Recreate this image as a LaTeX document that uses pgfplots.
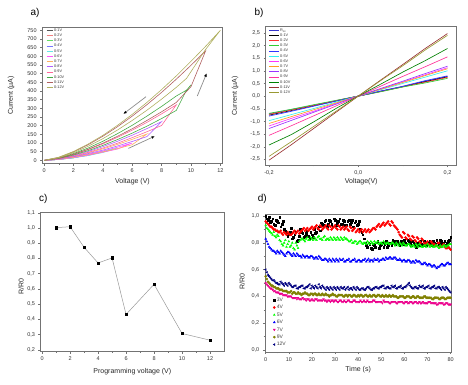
\documentclass[border=0pt]{standalone}
\usepackage{fontspec}
\setmainfont{Liberation Sans}
\usepackage{pgfplots}
\pgfplotsset{compat=1.18}
\usepackage{pgfplotstable}
\usetikzlibrary{arrows.meta}

% panel a colours
\definecolor{a1}{HTML}{555555}
\definecolor{a2}{HTML}{F08080}
\definecolor{a3}{HTML}{66DD66}
\definecolor{a4}{HTML}{7777FF}
\definecolor{a5}{HTML}{66E6E6}
\definecolor{a6}{HTML}{FF55FF}
\definecolor{a7}{HTML}{FFB060}
\definecolor{a8}{HTML}{B060FF}
\definecolor{a9}{HTML}{FF6699}
\definecolor{a10}{HTML}{44AA44}
\definecolor{a11}{HTML}{B06060}
\definecolor{a12}{HTML}{B0B060}
% panel b colours
\definecolor{bini}{HTML}{3333CC}
\definecolor{b1}{HTML}{000000}
\definecolor{b2}{HTML}{FF3333}
\definecolor{b3}{HTML}{33CC33}
\definecolor{b4}{HTML}{3333FF}
\definecolor{b5}{HTML}{33F0F0}
\definecolor{b6}{HTML}{FF33FF}
\definecolor{b7}{HTML}{FFA020}
\definecolor{b8}{HTML}{9933FF}
\definecolor{b9}{HTML}{FF3399}
\definecolor{b10}{HTML}{008000}
\definecolor{b11}{HTML}{993333}
\definecolor{b12}{HTML}{999933}
% panel d colours
\definecolor{dolive}{HTML}{808000}
\definecolor{dnavy}{HTML}{000080}

\pgfplotstableread{
t s3 s4 s5 s6 s7 s9 s12
0 1.00 0.96 0.93 0.83 0.50 0.55 0.60
1 0.97 0.94 0.90 0.79 0.48 0.51 0.56
2 0.95 0.92 0.88 0.76 0.46 0.49 0.54
3 0.98 0.91 0.86 0.74 0.45 0.48 0.52
4 0.93 0.90 0.85 0.73 0.44 0.47 0.51
5 0.96 0.89 0.86 0.74 0.43 0.46 0.50
6 0.99 0.88 0.82 0.72 0.42 0.45 0.49
7 0.94 0.87 0.79 0.73 0.42 0.45 0.50
8 0.90 0.88 0.80 0.71 0.41 0.44 0.48
9 0.88 0.86 0.77 0.72 0.41 0.44 0.49
10 0.86 0.87 0.81 0.73 0.40 0.43 0.50
11 0.91 0.86 0.78 0.71 0.40 0.44 0.48
12 0.84 0.88 0.76 0.72 0.39 0.43 0.47
13 0.88 0.87 0.80 0.70 0.39 0.42 0.48
14 0.82 0.89 0.76 0.71 0.39 0.43 0.46
15 0.90 0.88 0.82 0.70 0.38 0.42 0.47
16 0.87 0.90 0.83 0.71 0.39 0.42 0.48
17 0.85 0.89 0.81 0.69 0.38 0.43 0.46
18 0.89 0.91 0.84 0.70 0.38 0.42 0.47
19 0.83 0.90 0.82 0.69 0.37 0.41 0.49
20 0.86 0.92 0.83 0.70 0.38 0.42 0.48
21 0.90 0.91 0.84 0.68 0.37 0.42 0.46
22 0.88 0.93 0.82 0.69 0.38 0.41 0.47
23 0.92 0.90 0.85 0.70 0.37 0.42 0.49
24 0.95 0.92 0.83 0.68 0.37 0.41 0.46
25 0.93 0.91 0.84 0.67 0.38 0.41 0.47
26 0.97 0.93 0.82 0.68 0.37 0.42 0.45
27 0.94 0.90 0.83 0.66 0.37 0.41 0.46
28 0.96 0.92 0.84 0.67 0.36 0.41 0.47
29 0.92 0.91 0.82 0.68 0.37 0.42 0.45
30 0.97 0.93 0.83 0.66 0.37 0.41 0.46
31 0.95 0.90 0.84 0.67 0.36 0.40 0.47
32 0.98 0.92 0.82 0.68 0.37 0.41 0.45
33 0.94 0.91 0.83 0.67 0.36 0.41 0.46
34 0.96 0.90 0.84 0.66 0.37 0.40 0.47
35 0.93 0.92 0.83 0.67 0.36 0.41 0.46
36 0.97 0.89 0.81 0.68 0.37 0.41 0.45
37 0.95 0.91 0.82 0.66 0.36 0.40 0.46
38 0.92 0.90 0.80 0.67 0.37 0.41 0.47
39 0.96 0.88 0.81 0.66 0.36 0.40 0.45
40 0.94 0.90 0.80 0.67 0.36 0.41 0.46
41 0.90 0.89 0.81 0.66 0.37 0.41 0.45
42 0.86 0.88 0.79 0.67 0.36 0.40 0.46
43 0.80 0.90 0.80 0.68 0.36 0.41 0.45
44 0.77 0.89 0.81 0.67 0.37 0.40 0.47
45 0.79 0.88 0.79 0.66 0.36 0.41 0.46
46 0.75 0.90 0.80 0.67 0.36 0.40 0.45
47 0.78 0.91 0.81 0.68 0.37 0.41 0.46
48 0.80 0.92 0.80 0.67 0.36 0.40 0.47
49 0.76 0.94 0.79 0.66 0.36 0.41 0.46
50 0.79 0.93 0.80 0.67 0.36 0.40 0.47
51 0.77 0.95 0.81 0.68 0.37 0.40 0.48
52 0.81 0.94 0.79 0.69 0.36 0.41 0.46
53 0.78 0.96 0.80 0.68 0.36 0.40 0.47
54 0.80 0.93 0.79 0.69 0.35 0.40 0.46
55 0.82 0.95 0.80 0.68 0.36 0.41 0.47
56 0.79 0.92 0.78 0.69 0.36 0.40 0.48
57 0.81 0.90 0.79 0.67 0.35 0.39 0.46
58 0.78 0.86 0.80 0.68 0.36 0.40 0.47
59 0.80 0.84 0.78 0.66 0.36 0.40 0.46
60 0.82 0.87 0.79 0.67 0.35 0.39 0.47
61 0.79 0.83 0.78 0.66 0.36 0.40 0.48
62 0.81 0.85 0.79 0.67 0.35 0.40 0.50
63 0.78 0.82 0.77 0.65 0.36 0.39 0.47
64 0.80 0.84 0.78 0.66 0.35 0.40 0.46
65 0.77 0.81 0.79 0.67 0.36 0.39 0.47
66 0.79 0.83 0.77 0.66 0.35 0.40 0.46
67 0.81 0.80 0.78 0.65 0.35 0.39 0.47
68 0.78 0.82 0.77 0.64 0.36 0.39 0.48
69 0.80 0.79 0.78 0.65 0.35 0.40 0.46
70 0.79 0.81 0.79 0.63 0.35 0.39 0.47
71 0.81 0.78 0.77 0.64 0.36 0.39 0.46
72 0.78 0.80 0.78 0.62 0.35 0.38 0.47
73 0.80 0.79 0.77 0.63 0.35 0.39 0.48
74 0.82 0.78 0.78 0.61 0.34 0.39 0.46
75 0.79 0.80 0.76 0.62 0.35 0.38 0.47
76 0.81 0.77 0.77 0.64 0.35 0.39 0.45
77 0.80 0.79 0.78 0.63 0.34 0.39 0.46
78 0.78 0.76 0.77 0.64 0.35 0.38 0.47
79 0.81 0.77 0.78 0.65 0.34 0.39 0.45
80 0.84 0.75 0.79 0.64 0.34 0.39 0.43
0.5 0.98 0.95 0.91 0.81 0.49 0.53 0.58
1.5 0.99 0.93 0.89 0.77 0.47 0.50 0.55
2.5 0.96 0.92 0.87 0.75 0.46 0.48 0.53
3.5 0.94 0.90 0.88 0.74 0.44 0.47 0.52
4.5 0.97 0.89 0.84 0.72 0.43 0.46 0.50
5.5 0.95 0.88 0.85 0.73 0.43 0.46 0.49
6.5 0.92 0.89 0.81 0.74 0.42 0.45 0.51
7.5 0.96 0.86 0.78 0.72 0.41 0.44 0.49
8.5 0.89 0.87 0.82 0.70 0.41 0.44 0.50
9.5 0.85 0.88 0.79 0.73 0.40 0.43 0.48
10.5 0.88 0.86 0.77 0.72 0.40 0.43 0.49
11.5 0.83 0.87 0.80 0.70 0.39 0.42 0.47
12.5 0.86 0.89 0.75 0.71 0.39 0.43 0.48
13.5 0.81 0.88 0.78 0.72 0.38 0.42 0.46
14.5 0.85 0.87 0.81 0.70 0.38 0.42 0.47
15.5 0.88 0.89 0.83 0.69 0.38 0.41 0.48
16.5 0.84 0.91 0.82 0.70 0.38 0.42 0.46
17.5 0.87 0.90 0.83 0.70 0.37 0.42 0.47
18.5 0.85 0.89 0.82 0.69 0.38 0.41 0.48
19.5 0.88 0.91 0.84 0.70 0.37 0.42 0.46
20.5 0.84 0.90 0.82 0.69 0.37 0.41 0.47
21.5 0.87 0.92 0.83 0.69 0.38 0.42 0.48
22.5 0.91 0.91 0.84 0.68 0.37 0.41 0.46
23.5 0.89 0.93 0.83 0.69 0.37 0.41 0.47
24.5 0.94 0.90 0.82 0.67 0.37 0.42 0.48
25.5 0.96 0.92 0.85 0.68 0.37 0.41 0.46
26.5 0.92 0.91 0.83 0.67 0.36 0.41 0.47
27.5 0.97 0.93 0.82 0.68 0.37 0.40 0.45
28.5 0.94 0.90 0.83 0.66 0.37 0.41 0.46
29.5 0.98 0.92 0.84 0.67 0.36 0.41 0.47
30.5 0.93 0.91 0.82 0.68 0.37 0.40 0.45
31.5 0.96 0.93 0.83 0.66 0.36 0.41 0.46
32.5 0.94 0.90 0.84 0.67 0.37 0.41 0.47
33.5 0.97 0.92 0.82 0.68 0.36 0.40 0.46
34.5 0.93 0.91 0.83 0.66 0.36 0.41 0.45
35.5 0.96 0.90 0.82 0.67 0.37 0.40 0.47
36.5 0.94 0.92 0.81 0.66 0.36 0.41 0.46
37.5 0.97 0.89 0.80 0.67 0.36 0.40 0.45
38.5 0.95 0.91 0.81 0.68 0.37 0.41 0.46
39.5 0.93 0.89 0.79 0.66 0.36 0.40 0.47
40.5 0.96 0.88 0.81 0.67 0.36 0.40 0.45
41.5 0.88 0.90 0.80 0.66 0.36 0.41 0.46
42.5 0.83 0.89 0.80 0.67 0.37 0.40 0.45
43.5 0.78 0.88 0.79 0.66 0.36 0.41 0.46
44.5 0.80 0.90 0.80 0.68 0.36 0.40 0.47
45.5 0.76 0.89 0.81 0.67 0.36 0.40 0.45
46.5 0.79 0.91 0.79 0.66 0.37 0.41 0.46
47.5 0.77 0.90 0.80 0.67 0.36 0.40 0.47
48.5 0.81 0.93 0.81 0.68 0.36 0.41 0.46
49.5 0.78 0.92 0.80 0.67 0.36 0.40 0.47
50.5 0.80 0.94 0.79 0.68 0.35 0.41 0.48
51.5 0.79 0.93 0.80 0.67 0.36 0.40 0.46
52.5 0.77 0.95 0.80 0.68 0.36 0.40 0.47
53.5 0.80 0.94 0.79 0.69 0.35 0.41 0.46
54.5 0.78 0.96 0.80 0.68 0.36 0.40 0.48
55.5 0.81 0.93 0.79 0.69 0.36 0.40 0.47
56.5 0.80 0.91 0.80 0.68 0.35 0.40 0.46
57.5 0.79 0.88 0.78 0.67 0.36 0.39 0.47
58.5 0.81 0.85 0.79 0.67 0.36 0.40 0.48
59.5 0.79 0.88 0.80 0.67 0.35 0.40 0.46
60.5 0.80 0.84 0.78 0.66 0.36 0.39 0.47
61.5 0.82 0.86 0.79 0.67 0.35 0.40 0.49
62.5 0.79 0.83 0.78 0.66 0.36 0.39 0.48
63.5 0.81 0.85 0.78 0.66 0.35 0.40 0.46
64.5 0.79 0.82 0.77 0.65 0.36 0.39 0.47
65.5 0.80 0.84 0.78 0.66 0.35 0.40 0.46
66.5 0.78 0.81 0.79 0.66 0.36 0.39 0.48
67.5 0.79 0.83 0.77 0.64 0.35 0.39 0.47
68.5 0.81 0.80 0.78 0.65 0.35 0.40 0.46
69.5 0.78 0.80 0.77 0.64 0.35 0.39 0.47
70.5 0.80 0.79 0.78 0.64 0.36 0.39 0.48
71.5 0.79 0.81 0.78 0.63 0.35 0.39 0.46
72.5 0.81 0.79 0.77 0.63 0.35 0.38 0.47
73.5 0.79 0.78 0.78 0.62 0.35 0.39 0.46
74.5 0.80 0.80 0.77 0.62 0.34 0.39 0.47
75.5 0.82 0.77 0.78 0.63 0.35 0.38 0.46
76.5 0.79 0.78 0.77 0.64 0.35 0.39 0.47
77.5 0.81 0.77 0.78 0.63 0.34 0.38 0.45
78.5 0.80 0.76 0.78 0.65 0.35 0.39 0.46
79.5 0.82 0.76 0.79 0.64 0.34 0.39 0.44
}\tabd

\pgfplotsset{
  panel/.style={
    scale only axis, anchor=south west,
    axis line style={black!55, line width=0.5pt},
    tick style={black!55, line width=0.4pt},
    tick align=outside, tick pos=left,
    major tick length=2.2pt, minor tick length=1.3pt,
    ticklabel style={font=\fontsize{5.5}{6}\selectfont, text=black!80},
    /pgf/number format/assume math mode=true,
    label style={font=\fontsize{7}{8}\selectfont, text=black!85},
    scaled ticks=false,
  },
  linelegend/.style={
    legend image code/.code={\draw[##1] (0pt,0pt) -- (#1,0pt);},
    legend cell align=left,
    legend style={draw=none, fill=none, inner sep=0pt,
      nodes={inner xsep=0.6pt, inner ysep=0.8pt, text height=2.8pt, text depth=0.8pt,
             font=\fontsize{3.8}{4}\selectfont, text=black!80}},
  },
}

\begin{document}
\begin{tikzpicture}
\useasboundingbox (0pt,0pt) rectangle (468pt,384pt);

\node[font=\fontsize{10}{12}\selectfont] at (35pt,371pt) {a)};
\node[font=\fontsize{10}{12}\selectfont] at (259pt,371pt) {b)};
\node[font=\fontsize{10}{12}\selectfont] at (43.3pt,185.3pt) {c)};
\node[font=\fontsize{10}{12}\selectfont] at (262.3pt,185.3pt) {d)};

% ---------------- panel a ----------------
\begin{axis}[panel, at={(42.3pt,220.7pt)}, width=180.4pt, height=135.6pt,
  xmin=-0.12, xmax=12.16, ymin=-17, ymax=765,
  xtick={0,2,...,12}, ytick={0,50,...,750}, minor x tick num=1,
  xlabel={Voltage (V)}, ylabel={Current (µA)},
  xlabel style={at={(axis description cs:0.5,-0.138)}, anchor=center},
  ylabel style={at={(axis description cs:-0.1735,0.5)}, anchor=center},
  linelegend=6.6pt,
  legend style={at={(rel axis cs:0,1)}, xshift=3.8pt, yshift=0.3pt, anchor=north west},
  every axis plot/.append style={line width=0.6pt},
]
\addplot[a1] coordinates {(0,0)(0.5,2)(1,8)(0.5,3)(0,0)};
\addlegendentry{0-1V}
\addplot[a2] coordinates {(0,0)(1,5)(2,20)(1,7)(0,0)};
\addlegendentry{0-2V}
\addplot[a3] coordinates {(0,0)(1,5)(2,14)(3,33)(2,18)(1,6)(0,0)};
\addlegendentry{0-3V}
\addplot[a4] coordinates {(0,0)(1,5)(2,15)(3,28)(4,50)(3,32)(2,18)(1,6)(0,0)};
\addlegendentry{0-4V}
\addplot[a5] coordinates {(0,0)(1,5)(2,15)(3,28)(4,45)(5,72)(4,52)(3,33)(2,18)(1,6)(0,0)};
\addlegendentry{0-5V}
\addplot[a6] coordinates {(0,0)(1,5)(2,16)(3,30)(4,47)(5,65)(6,100)(5,76)(4,54)(3,35)(2,19)(1,7)(0,0)};
\addlegendentry{0-6V}
\addplot[a7] coordinates {(0,0)(1,6)(2,17)(3,32)(4,49)(5,68)(6,90)(7,152)(6,121)(5,92)(4,66)(3,43)(2,23)(1,8)(0,0)};
\addlegendentry{0-7V}
\addplot[a8] coordinates {(0,0)(1,7)(2,21)(3,39)(4,59)(5,83)(6,109)(7,137)(8,223)(7,183)(6,145)(5,110)(4,79)(3,51)(2,28)(1,10)(0,0)};
\addlegendentry{0-8V}
\addplot[a9] coordinates {(0,0)(1,9)(2,25)(3,46)(4,71)(5,99)(6,131)(7,165)(8,201)(9,320)(8,268)(7,219)(6,174)(5,133)(4,95)(3,62)(2,34)(1,12)(0,0)};
\addlegendentry{0-9V}
\addplot[a10] coordinates {(0,0)(1,11)(2,31)(3,56)(4,86)(5,120)(6,157)(7,197)(8,241)(9,288)(9.6,390)(10,435)(9.7,405)(9,371)(8,311)(7,255)(6,202)(5,154)(4,110)(3,71)(2,39)(1,14)(0,0)};
\addlegendentry{0-10V}
\addplot[a11] coordinates {(0,0)(1,13)(2,35)(3,64)(4,99)(5,139)(6,182)(7,230)(8,280)(9,334)(10,425)(11,632)(10,548)(9,468)(8,392)(7,321)(6,255)(5,194)(4,139)(3,90)(2,49)(1,17)(0,0)};
\addlegendentry{0-11V}
\addplot[a12] coordinates {(0,0)(1,15)(2,44)(3,81)(4,125)(5,175)(6,230)(7,289)(8,353)(9,421)(9.7,473)(11,640)(12,750)(11,658)(10,571)(9,487)(8,408)(7,334)(6,265)(5,202)(4,144)(3,94)(2,51)(1,18)(0,0)};
\addlegendentry{0-12V}
\draw[black!45, line width=0.7pt, -{Latex[color=black,length=3.5pt,width=2.8pt]}] (axis cs:6.94,367) -- (axis cs:5.39,267);
\draw[black!45, line width=0.7pt, -{Latex[color=black,length=3.5pt,width=2.8pt]}] (axis cs:5.74,69) -- (axis cs:7.55,140);
\draw[black!45, line width=0.7pt, -{Latex[color=black,length=3.5pt,width=2.8pt]}] (axis cs:10.43,371) -- (axis cs:11.07,502);
\end{axis}

% ---------------- panel b ----------------
\begin{axis}[panel, at={(265.7pt,219pt)}, width=191pt, height=138.3pt,
  xmin=-0.2074, xmax=0.2206, ymin=-2.72, ymax=2.74,
  xtick={-0.2,0,0.2}, minor xtick={-0.1,0.1}, ytick={-2.5,-2,...,2.5},
  /pgf/number format/.cd, use comma, fixed, fixed zerofill, precision=1, /pgfplots/.cd,
  xlabel={Voltage(V)}, ylabel={Current (µA)},
  xlabel style={at={(axis description cs:0.5,-0.12)}, anchor=center},
  ylabel style={at={(axis description cs:-0.16,0.5)}, anchor=center},
  linelegend=10pt,
  legend style={at={(rel axis cs:0,1)}, xshift=3.0pt, yshift=-0.6pt, anchor=north west},
  every axis plot/.append style={line width=0.65pt},
]
\addplot[bini] coordinates {(-0.2,-0.70)(-0.15,-0.53)(-0.1,-0.36)(-0.05,-0.18)(0,0)(0.05,0.19)(0.1,0.38)(0.15,0.59)(0.2,0.78)};
\addlegendentry{R\textsubscript{ini}}
\addplot[b1] coordinates {(-0.2,-0.75)(-0.15,-0.57)(-0.1,-0.38)(-0.05,-0.19)(0,0)(0.05,0.19)(0.1,0.37)(0.15,0.57)(0.2,0.76)};
\addlegendentry{0-1V}
\addplot[b2] coordinates {(-0.2,-0.72)(-0.15,-0.55)(-0.1,-0.37)(-0.05,-0.18)(0,0)(0.05,0.18)(0.1,0.37)(0.15,0.55)(0.2,0.74)};
\addlegendentry{0-2V}
\addplot[b3] coordinates {(-0.2,-0.68)(-0.15,-0.52)(-0.1,-0.34)(-0.05,-0.17)(0,0)(0.05,0.17)(0.1,0.36)(0.15,0.52)(0.2,0.70)};
\addlegendentry{0-3V}
\addplot[b4] coordinates {(-0.2,-0.79)(-0.15,-0.60)(-0.1,-0.40)(-0.05,-0.20)(0,0)(0.05,0.20)(0.1,0.39)(0.15,0.61)(0.2,0.80)};
\addlegendentry{0-4V}
\addplot[b5] coordinates {(-0.2,-0.97)(-0.15,-0.73)(-0.1,-0.49)(-0.05,-0.24)(0,0)(0.05,0.25)(0.1,0.50)(0.15,0.75)(0.2,1.00)};
\addlegendentry{0-5V}
\addplot[b6] coordinates {(-0.2,-1.18)(-0.15,-0.88)(-0.1,-0.60)(-0.05,-0.29)(0,0)(0.05,0.28)(0.1,0.56)(0.15,0.84)(0.2,1.12)};
\addlegendentry{0-6V}
\addplot[b7] coordinates {(-0.2,-1.08)(-0.15,-0.81)(-0.1,-0.54)(-0.05,-0.27)(0,0)(0.05,0.27)(0.1,0.54)(0.15,0.81)(0.2,1.08)};
\addlegendentry{0-7V}
\addplot[b8] coordinates {(-0.2,-1.28)(-0.15,-0.96)(-0.1,-0.64)(-0.05,-0.32)(0,0)(0.05,0.30)(0.1,0.59)(0.15,0.89)(0.2,1.18)};
\addlegendentry{0-8V}
\addplot[b9] coordinates {(-0.2,-1.55)(-0.15,-1.17)(-0.1,-0.78)(-0.05,-0.39)(0,0)(0.05,0.39)(0.1,0.78)(0.15,1.16)(0.2,1.55)};
\addlegendentry{0-9V}
\addplot[b10] coordinates {(-0.2,-1.93)(-0.15,-1.52)(-0.1,-1.02)(-0.05,-0.49)(0,0)(0.05,0.47)(0.1,0.95)(0.15,1.40)(0.2,1.88)};
\addlegendentry{0-10V}
\addplot[b11] coordinates {(-0.2,-2.53)(-0.15,-1.92)(-0.1,-1.28)(-0.05,-0.64)(0,0)(0.05,0.63)(0.1,1.25)(0.15,1.88)(0.2,2.47)};
\addlegendentry{0-11V}
\addplot[b12] coordinates {(-0.2,-2.38)(-0.15,-1.80)(-0.1,-1.20)(-0.05,-0.60)(0,0)(0.05,0.61)(0.1,1.20)(0.15,1.82)(0.2,2.40)};
\addlegendentry{0-12V}
\end{axis}

% ---------------- panel c ----------------
\begin{axis}[panel, at={(40.7pt,32.7pt)}, width=183.3pt, height=138.6pt,
  xmin=-0.1, xmax=13, ymin=0.19, ymax=1.1,
  xtick={0,2,...,12}, minor x tick num=1,
  ytick={0.2,0.3,0.4,0.5,0.6,0.7,0.8,0.9,1.0,1.1},
  yticklabel style={/pgf/number format/.cd, use comma, fixed, fixed zerofill, precision=1},
  xlabel={Programming voltage (V)}, ylabel={R/R0},
  xlabel style={at={(axis description cs:0.5,-0.149)}, anchor=center},
  ylabel style={at={(axis description cs:-0.107,0.47)}, anchor=center},
]
\addplot[black!40, line width=0.5pt, mark=square*, mark size=1.2pt, mark options={black}]
  coordinates {(1,1.002)(2,1.008)(3,0.873)(4,0.770)(5,0.803)(6,0.432)(8,0.630)(10,0.307)(12,0.263)};
\end{axis}

% ---------------- panel d ----------------
\begin{axis}[panel, at={(265pt,32pt)}, width=186.3pt, height=137.7pt,
  xmin=-0.3, xmax=80.3, ymin=-0.015, ymax=1.013,
  xtick={0,10,...,80}, minor x tick num=1,
  ytick={0,0.2,0.4,0.6,0.8,1.0}, minor y tick num=1,
  yticklabel style={/pgf/number format/.cd, use comma, fixed, fixed zerofill, precision=1},
  xlabel={Time (s)}, ylabel={R/R0},
  xlabel style={at={(axis description cs:0.5,-0.13)}, anchor=center},
  ylabel style={at={(axis description cs:-0.123,0.51)}, anchor=center},
  legend image code/.code={\draw[#1] plot coordinates {(2pt,0pt)};},
  legend cell align=left,
  legend style={draw=none, fill=none, inner sep=0pt,
    at={(rel axis cs:0,0.405)}, xshift=8pt, anchor=north west,
    nodes={inner xsep=1.5pt, inner ysep=1.4pt, text height=3.6pt, text depth=1.0pt,
           font=\fontsize{5}{6}\selectfont, text=black!75}},
  every axis plot/.append style={only marks, mark size=1.1pt},
]
\addplot[black, mark=square*, mark size=0.85pt] table[x=t, y=s3] {\tabd};
\addlegendentry{3V}
\addplot[red, mark=*] table[x=t, y=s4] {\tabd};
\addlegendentry{4V}
\addplot[green, mark=triangle*] table[x=t, y=s5] {\tabd};
\addlegendentry{5V}
\addplot[blue, mark=triangle*] table[x=t, y=s6] {\tabd};
\addlegendentry{6V}
\addplot[magenta, mark=triangle*, mark options={rotate=180}] table[x=t, y=s7] {\tabd};
\addlegendentry{7V}
\addplot[dolive, mark=*] table[x=t, y=s9] {\tabd};
\addlegendentry{9V}
\addplot[dnavy, mark=triangle*, mark options={rotate=90}] table[x=t, y=s12] {\tabd};
\addlegendentry{12V}
\end{axis}
\end{tikzpicture}
\end{document}
